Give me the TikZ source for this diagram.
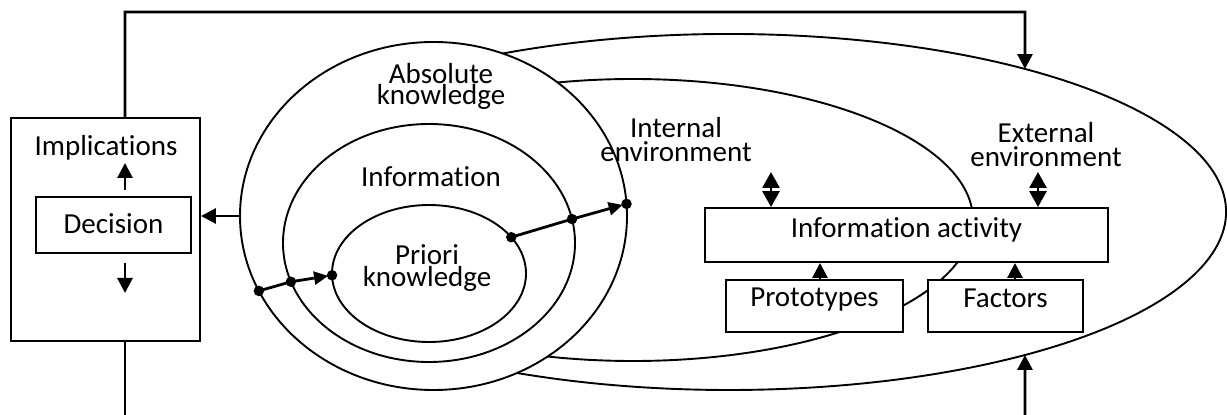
\documentclass[tikz,border=0pt]{standalone}
\usepackage{fontspec}
\setmainfont{Carlito}[Ligatures=NoCommon]
\usetikzlibrary{arrows.meta,shapes.geometric,calc}

\begin{document}
\begin{tikzpicture}[x=1pt,y=1pt,
  thinline/.style={line width=1.9pt},
  conn/.style={line width=2.8pt},
  tip/.style={-{Triangle[length=15pt,width=15pt]}},
  smalltip/.style={-{Triangle[length=14pt,width=13pt]}},
  dbl/.style={{Triangle[length=16pt,width=17pt]}-{Triangle[length=16pt,width=17pt]}, line width=2.8pt},
  box/.style={draw, fill=white, line width=1.9pt, inner sep=0, rectangle},
  oval/.style={draw, ellipse, line width=1.9pt, inner sep=0},
  lbl/.style={font=\fontsize{29}{23}\selectfont, align=center, inner sep=0},
  dot/.style={circle, fill=black, inner sep=0, minimum size=10.5pt}
]
\useasboundingbox (0,0) rectangle (1227,415);

% external environment contour (right part only)
\coordinate (bigc) at (729,203);
\draw[thinline] ($(bigc)+(120:497pt and 178pt)$)
  arc[start angle=120, end angle=-120, x radius=497pt, y radius=178pt];

% internal environment contour
\node[oval, minimum width=680pt, minimum height=282pt] (inenv) at (633,195) {};

% nested knowledge ellipses
\node[oval, fill=white, minimum width=387pt, minimum height=348pt] (abs) at (433.5,199) {};
\node[oval, minimum width=292pt, minimum height=238pt] (info) at (429,172) {};
\node[oval, minimum width=194pt, minimum height=137pt] (pri) at (429,141.5) {};

\node[lbl, font=\fontsize{29}{21}\selectfont] (abstxt) at (441,329) {Absolute\\knowledge};
\node[lbl] (infotxt) at (431,238) {Information};
\node[lbl, font=\fontsize{29}{22}\selectfont] (pritxt) at (427,147) {Priori\\knowledge};

% activity boxes
\node[box, minimum width=403pt, minimum height=54pt] (act) at (906.5,180) {};
\node[lbl] (acttxt) at ([yshift=5pt]act.center) {Information activity};
\node[box, minimum width=177pt, minimum height=52pt] (proto) at (814.5,109) {};
\node[lbl] (prototxt) at ([yshift=6pt]proto.center) {Prototypes};
\node[box, minimum width=155pt, minimum height=52pt] (fact) at (1005.5,109) {};
\node[lbl] (facttxt) at ([yshift=8pt]fact.center) {Factors};

\node[lbl, font=\fontsize{29}{24}\selectfont] (intenv) at (676,275) {Internal\\environment};
\node[lbl, font=\fontsize{29}{24}\selectfont] (extenv) at (1046,270) {External\\environment};

% decision block
\node[box, minimum width=189pt, minimum height=223pt] (dm) at (105.5,185.5) {};
\node[box, minimum width=155pt, minimum height=56pt] (dec) at (113.5,190) {};
\node[lbl] (dectxt) at ([yshift=1pt]dec.center) {Decision};
\node[lbl] (impl) at (106,267) {Implications};

% arrows inside the decision block
\draw[conn, tip] (125,225) -- (125,252);
\draw[conn, tip] (125,152) -- (125,122);

% environment links
\coordinate (ie) at (771,243);
\coordinate (ee) at (1038,243);
\draw[dbl] (ie) -- (ie |- act.north);
\draw[dbl] (ee) -- (ee |- act.north);
\draw[conn, tip] (proto.north -| 820,0) -- (act.south -| 820,0);
\draw[conn, tip] (fact.north -| 1015,0) -- (act.south -| 1015,0);

% knowledge to decision
\draw[conn, tip] (abs.west) -- (abs.west -| dm.east);

% feedback loop
\coordinate (tl) at (125,403);
\coordinate (tr) at (1025,403);
\coordinate (topin) at ($(bigc)+(53.45:497pt and 178pt)$);
\draw[conn, tip] (dm.north -| tl) -- (tl) -- (tr) -- (topin);
\coordinate (bl) at (125,0);
\draw[conn] (dm.south -| bl) -- (bl);
\coordinate (br) at (1025,0);
\coordinate (botin) at ($(bigc)+(-53.45:497pt and 178pt)$);
\draw[conn, tip] (br) -- (botin);

% knowledge transitions
\coordinate (l1) at ($(abs.center)+(205.5:193.5pt and 174pt)$);
\coordinate (l2) at ($(info.center)+(199:146pt and 119pt)$);
\coordinate (l3) at ($(pri.center)+(181.5:97pt and 68.5pt)$);
\coordinate (r1) at ($(pri.center)+(32:97pt and 68.5pt)$);
\coordinate (r2) at ($(info.center)+(11.6:146pt and 119pt)$);
\coordinate (r3) at ($(abs.center)+(4:193.5pt and 174pt)$);
\draw[conn, smalltip, shorten >=4pt] (l1) -- (l2) -- (l3);
\draw[conn, smalltip, shorten >=4pt] (r1) -- (r2) -- (r3);
\foreach \p in {l1,l2,l3,r1,r2,r3} \node[dot] at (\p) {};
\end{tikzpicture}
\end{document}
